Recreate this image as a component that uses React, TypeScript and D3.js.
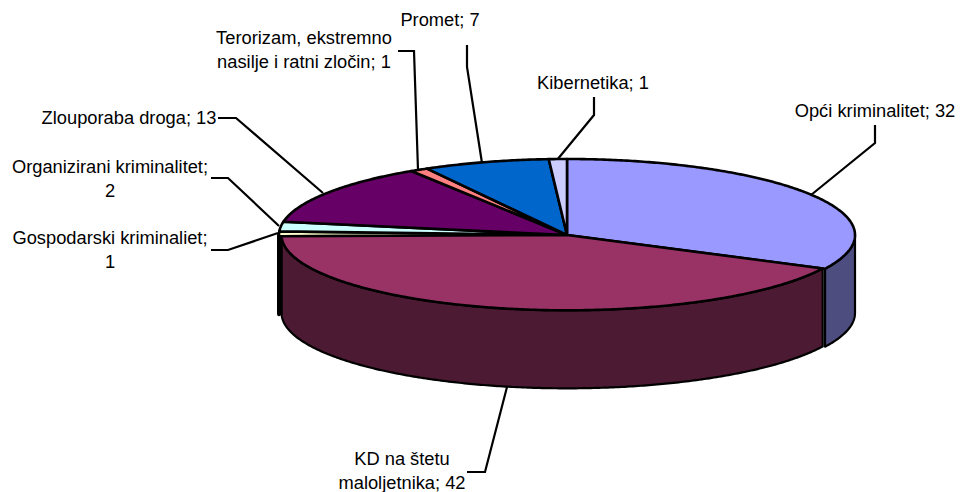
import * as d3 from 'd3';

// clockwise from 12 o'clock, same order as the source chart
const categories = [
  'Opći kriminalitet',
  'KD na štetu maloljetnika',
  'Gospodarski kriminaliet',
  'Organizirani kriminalitet',
  'Zlouporaba droga',
  'Terorizam, ekstremno nasilje i ratni zločin',
  'Promet',
  'Kibernetika',
];
const values = [32, 42, 1, 2, 13, 1, 7, 1];
const topColors = ['#9999FF', '#993366', '#FFFFCC', '#CCFFFF', '#660066', '#FF8080', '#0066CC', '#CCCCFF'];

const labelLines = [
  ['Opći kriminalitet; 32'],
  ['KD na štetu', 'maloljetnika; 42'],
  ['Gospodarski kriminaliet;', '1'],
  ['Organizirani kriminalitet;', '2'],
  ['Zlouporaba droga; 13'],
  ['Terorizam, ekstremno', 'nasilje i ratni zločin; 1'],
  ['Promet; 7'],
  ['Kibernetika; 1'],
];

// label layout: text centre x, first line centre y, leader polyline
const labelLayout: { x: number; y: number; leader: [number, number][] }[] = [
  { x: 875, y: 111, leader: [[875, 125], [875, 143], [811, 195]] },
  { x: 402, y: 459, leader: [[467, 472], [485, 472], [507, 387]] },
  { x: 110, y: 238, leader: [[211, 250], [228, 250], [278, 233]] },
  { x: 110, y: 167, leader: [[211, 178], [228, 178], [279, 226]] },
  { x: 129, y: 118, leader: [[218, 118], [236, 118], [323, 193]] },
  { x: 304, y: 38, leader: [[398, 51], [414, 51], [418, 170]] },
  { x: 440, y: 20, leader: [[467, 45], [467, 67], [482, 163]] },
  { x: 593, y: 83, leader: [[594, 97], [594, 115], [557, 160]] },
];

const cx = 567;
const cy = 235;
const rx = 288;
const ry = 76;
const depth = 78;
const lineHeight = 24;
const KD_INDEX = 1;
const KD_SCALE = 0.991; // the big slice sits a touch inside the others in the source

function darker(color: string) {
  const c = d3.rgb(color);
  return d3.rgb(c.r / 2, c.g / 2, c.b / 2).formatHex();
}

const point = (a: number, scale: number, dy = 0): [number, number] => [
  cx + rx * scale * Math.sin(a),
  cy - ry * scale * Math.cos(a) + dy,
];

const line = d3.line();

function rim(a0: number, a1: number, scale: number, dy = 0) {
  const steps = Math.max(2, Math.ceil((a1 - a0) / 0.01));
  return d3.range(steps + 1).map((i) => point(a0 + ((a1 - a0) * i) / steps, scale, dy));
}

export default function App() {
  const arcs = d3.pie<number>().sort(null).startAngle(0).endAngle(2 * Math.PI)(values);

  const walls = arcs
    .map((d, i) => {
      const a0 = Math.max(d.startAngle, Math.PI / 2);
      const a1 = Math.min(d.endAngle, (3 * Math.PI) / 2);
      if (a1 <= a0) return null;
      const scale = i === KD_INDEX ? KD_SCALE : 1;
      const outline = [...rim(a0, a1, scale), ...rim(a0, a1, scale, depth).reverse()];
      return { i, d: line(outline) + 'Z', fill: darker(topColors[i]) };
    })
    .filter((w): w is { i: number; d: string; fill: string } => w !== null)
    .sort((a, b) => (a.i === KD_INDEX ? 1 : 0) - (b.i === KD_INDEX ? 1 : 0));

  const tops = arcs
    .map((d, i) => {
      const scale = i === KD_INDEX ? KD_SCALE : 1;
      const outline = [[cx, cy] as [number, number], ...rim(d.startAngle, d.endAngle, scale)];
      return { i, d: line(outline) + 'Z', fill: topColors[i] };
    })
    .sort((a, b) => (a.i === KD_INDEX ? 1 : 0) - (b.i === KD_INDEX ? 1 : 0));

  return (
    <svg
      width={960}
      height={492}
      style={{ position: 'absolute', left: 0, top: 0, fontFamily: '"Liberation Sans", Arial, sans-serif' }}
    >
      <rect width={960} height={492} fill="#FFFFFF" />
      {categories.map((name, i) => (
        <path key={name} d={line(labelLayout[i].leader) ?? ''} fill="none" stroke="#000" strokeWidth={2.2} />
      ))}
      {walls.map((w) => (
        <path key={w.i} d={w.d} fill={w.fill} stroke="#000" strokeWidth={w.i === 2 ? 4 : 2.2} strokeLinejoin="round" />
      ))}
      {tops.map((t) => (
        <path key={t.i} d={t.d} fill={t.fill} stroke="#000" strokeWidth={2.6} strokeLinejoin="round" />
      ))}
      {categories.map((name, i) =>
        labelLines[i].map((text, j) => (
          <text
            key={name + j}
            x={labelLayout[i].x}
            y={labelLayout[i].y + j * lineHeight + 6}
            textAnchor="middle"
            fontSize={18.3}
            fill="#000"
          >
            {text}
          </text>
        )),
      )}
    </svg>
  );
}
